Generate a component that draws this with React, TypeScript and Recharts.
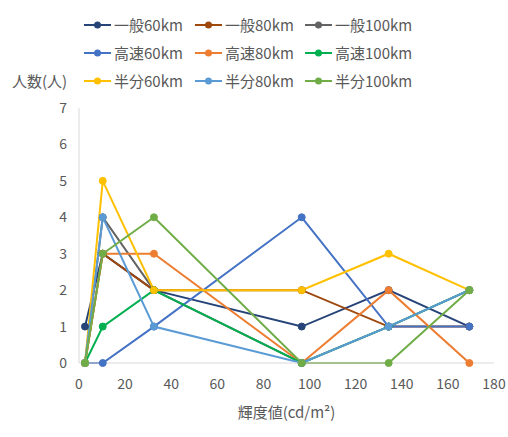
import React from "react";
import { LineChart, Line, XAxis, YAxis } from "recharts";

const luminance = [2.6, 10.3, 32.5, 96.6, 134.3, 169.3];

const ippan60 = [1, 3, 2, 1, 2, 1];
const ippan80 = [0, 3, 2, 2, 1, 1];
const ippan100 = [0, 4, 2, 0, 1, 2];
const kosoku60 = [0, 0, 1, 4, 1, 1];
const kosoku80 = [0, 3, 3, 0, 2, 0];
const kosoku100 = [0, 1, 2, 0, 1, 2];
const hanbun60 = [0, 5, 2, 2, 3, 2];
const hanbun80 = [0, 4, 1, 0, 1, 2];
const hanbun100 = [0, 3, 4, 0, 0, 2];

const xTicks = [0, 20, 40, 60, 80, 100, 120, 140, 160, 180];
const yTicks = [0, 1, 2, 3, 4, 5, 6, 7];

const series = [
  { key: "s1", name: "一般60km", values: ippan60, color: "#264478" },
  { key: "s2", name: "一般80km", values: ippan80, color: "#9E480E" },
  { key: "s3", name: "一般100km", values: ippan100, color: "#636363" },
  { key: "s4", name: "高速60km", values: kosoku60, color: "#4472C4" },
  { key: "s5", name: "高速80km", values: kosoku80, color: "#ED7D31" },
  { key: "s6", name: "高速100km", values: kosoku100, color: "#00B050" },
  { key: "s7", name: "半分60km", values: hanbun60, color: "#FFC000" },
  { key: "s8", name: "半分80km", values: hanbun80, color: "#5B9BD5" },
  { key: "s9", name: "半分100km", values: hanbun100, color: "#70AD47" },
];

const data = luminance.map((x, i) => {
  const row: Record<string, number> = { x };
  series.forEach((s) => {
    row[s.key] = s.values[i];
  });
  return row;
});

const FONT = "'Noto Sans CJK JP', 'Noto Sans', sans-serif";
const TEXT = "#595959";

const colX = [84, 195, 305];
const rowY = [25, 53, 81];

export default function App() {
  return (
    <div
      style={{
        position: "absolute",
        left: 0,
        top: 0,
        width: 508,
        height: 437,
        background: "#fff",
        fontFamily: FONT,
      }}
    >
      <LineChart
        width={508}
        height={437}
        data={data}
        margin={{ top: 108, right: 14, bottom: 0, left: 0 }}
      >
        <XAxis
          dataKey="x"
          type="number"
          domain={[0, 180]}
          ticks={xTicks}
          interval={0}
          height={74}
          tickSize={0}
          tickMargin={16}
          axisLine={{ stroke: "#D9D9D9", strokeWidth: 1 }}
          tick={{ fill: TEXT, fontSize: 14, fontFamily: FONT }}
          label={{
            value: "輝度値(cd/m²)",
            position: "insideBottom",
            offset: 19,
            fill: TEXT,
            fontSize: 15,
            fontFamily: FONT,
          }}
        />
        <YAxis
          type="number"
          domain={[0, 7]}
          ticks={yTicks}
          interval={0}
          width={79}
          tickSize={0}
          tickMargin={12}
          axisLine={{ stroke: "#D9D9D9", strokeWidth: 1 }}
          tick={{ fill: TEXT, fontSize: 14, fontFamily: FONT }}
        />
        {series.map((s) => (
          <Line
            key={s.key}
            dataKey={s.key}
            name={s.name}
            type="linear"
            stroke={s.color}
            strokeWidth={2}
            dot={{ r: 3.5, fill: s.color, stroke: s.color, strokeWidth: 1 }}
            activeDot={false}
            isAnimationActive={false}
          />
        ))}
      </LineChart>
      <div
        style={{
          position: "absolute",
          left: 12,
          top: rowY[2] - 11,
          fontSize: 15,
          lineHeight: "22px",
          color: TEXT,
          whiteSpace: "nowrap",
        }}
      >
        人数(人)
      </div>
      {series.map((s, i) => {
        const c = i % 3;
        const r = Math.floor(i / 3);
        return (
          <div
            key={s.key}
            style={{
              position: "absolute",
              left: colX[c],
              top: rowY[r] - 11,
              height: 22,
              display: "flex",
              alignItems: "center",
              whiteSpace: "nowrap",
            }}
          >
            <svg width={28} height={10} style={{ display: "block" }}>
              <line x1={0} y1={5} x2={27} y2={5} stroke={s.color} strokeWidth={2} />
              <circle cx={13.5} cy={5} r={3.5} fill={s.color} />
            </svg>
            <span style={{ fontSize: 15, lineHeight: "22px", color: TEXT, marginLeft: 2 }}>
              {s.name}
            </span>
          </div>
        );
      })}
    </div>
  );
}
